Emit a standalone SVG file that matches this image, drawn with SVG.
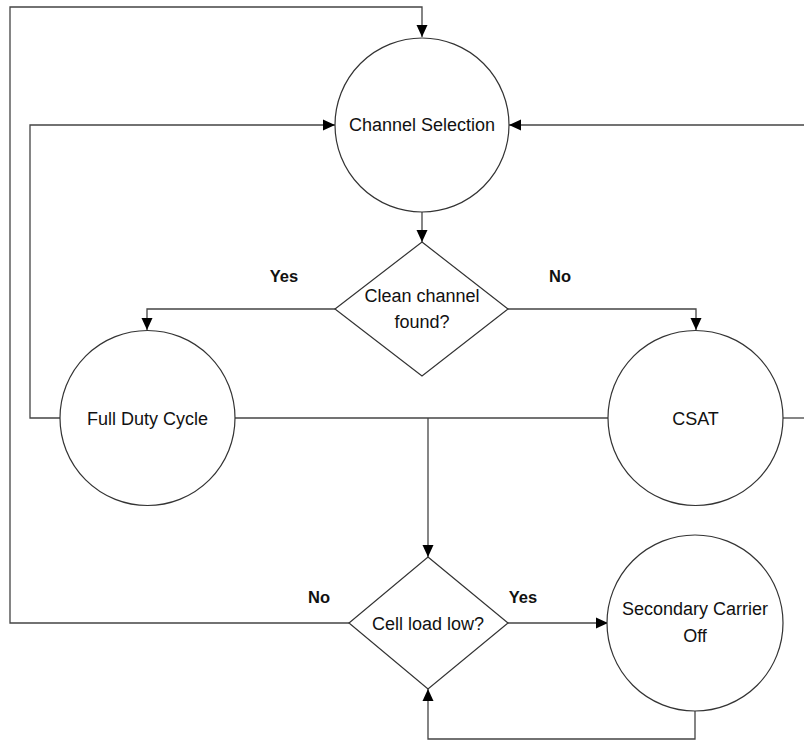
<svg xmlns="http://www.w3.org/2000/svg" width="804" height="742" viewBox="0 0 804 742">
  <defs>
    <marker id="arrow" viewBox="0 0 12 12" refX="12" refY="6" markerWidth="12" markerHeight="12" markerUnits="userSpaceOnUse" orient="auto">
      <path d="M0,0.5 L12,6 L0,11.5 Z" fill="#000"/>
    </marker>
    <style>
      .shape { fill: #fff; stroke: #333; stroke-width: 1.2; }
      .edge { fill: none; stroke: #444; stroke-width: 1.3; }
      .arr { marker-end: url(#arrow); }
      .label { font-family: "Liberation Sans", Arial, sans-serif; font-size: 18px; fill: #111; text-anchor: middle; }
      .edge-label { font-family: "Liberation Sans", Arial, sans-serif; font-size: 16.5px; font-weight: bold; fill: #111; text-anchor: middle; }
    </style>
  </defs>
  <rect width="804" height="742" fill="#fff"/>

  <g id="connectors">
    <!-- outer loop from cell-load decision back to top of channel selection -->
    <path class="edge arr" d="M349,623 H10 V7 H422 V37"/>
    <!-- full duty cycle back to channel selection -->
    <path class="edge arr" d="M60,418 H30 V125 H335"/>
    <!-- from right side into channel selection -->
    <path class="edge arr" d="M804,125 H509"/>
    <!-- channel selection to decision -->
    <path class="edge arr" d="M422,212 V242"/>
    <!-- yes branch -->
    <path class="edge arr" d="M335,309 H147 V330"/>
    <!-- no branch -->
    <path class="edge arr" d="M508,309 H696 V330"/>
    <!-- link between states -->
    <path class="edge" d="M235,418 H608"/>
    <path class="edge" d="M783,418 H804"/>
    <!-- down to cell load decision -->
    <path class="edge arr" d="M428,418 V557"/>
    <!-- yes to secondary carrier off -->
    <path class="edge arr" d="M508,623 H608"/>
    <!-- secondary carrier off back to cell load decision -->
    <path class="edge arr" d="M695,711 V739 H428 V689"/>
  </g>

  <g id="channel-selection">
    <circle class="shape" cx="422" cy="125" r="87"/>
    <text class="label" x="422" y="131">Channel Selection</text>
  </g>

  <g id="clean-channel-found">
    <path class="shape" d="M422,242 L508,309 L422,376 L335,309 Z"/>
    <text class="label" x="422" y="302">Clean channel</text>
    <text class="label" x="422" y="328">found?</text>
  </g>

  <g id="full-duty-cycle">
    <circle class="shape" cx="147.5" cy="418" r="87.5"/>
    <text class="label" x="147.5" y="425">Full Duty Cycle</text>
  </g>

  <g id="csat">
    <circle class="shape" cx="695.5" cy="418" r="87.5"/>
    <text class="label" x="695.5" y="425">CSAT</text>
  </g>

  <g id="cell-load-low">
    <path class="shape" d="M428,557 L508,623 L428,689 L349,623 Z"/>
    <text class="label" x="428" y="630">Cell load low?</text>
  </g>

  <g id="secondary-carrier-off">
    <circle class="shape" cx="695" cy="623" r="88"/>
    <text class="label" x="695" y="615">Secondary Carrier</text>
    <text class="label" x="695" y="642">Off</text>
  </g>

  <g id="edge-labels">
    <text class="edge-label" x="284" y="282">Yes</text>
    <text class="edge-label" x="560" y="282">No</text>
    <text class="edge-label" x="319" y="603">No</text>
    <text class="edge-label" x="523" y="603">Yes</text>
  </g>
</svg>
